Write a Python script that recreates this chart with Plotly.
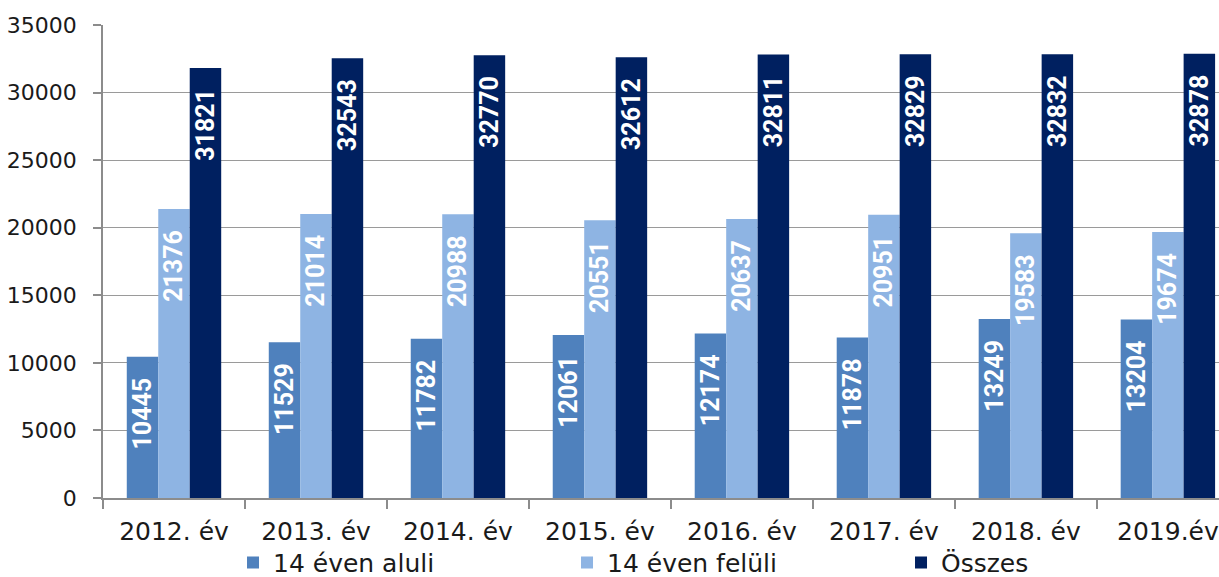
import plotly.graph_objects as go

categories = ["2012. év", "2013. év", "2014. év", "2015. év", "2016. év", "2017. év", "2018. év", "2019.év"]
under14 = [10445, 11529, 11782, 12061, 12174, 11878, 13249, 13204]
over14 = [21376, 21014, 20988, 20551, 20637, 20951, 19583, 19674]
total = [31821, 32543, 32770, 32612, 32811, 32829, 32832, 32878]
series_names = ["14 éven aluli", "14 éven felüli", "Összes"]
colors = ["#4F81BD", "#8EB4E3", "#002060"]

fig = go.Figure()
for name, vals, col in zip(series_names, [under14, over14, total], colors):
    fig.add_trace(go.Bar(
        x=categories, y=vals, name=name, marker_color=col, marker_line_width=0,
        text=[f"{v}\u2800" for v in vals], textposition="inside",
        insidetextanchor="end", textangle=-90, constraintext="none",
        textfont=dict(family="Roboto", size=25, color="white", weight="bold"),
        cliponaxis=False,
    ))

fig.update_layout(
    width=1219, height=577,
    margin=dict(l=103, r=0, t=25, b=79, autoexpand=False),
    paper_bgcolor="white", plot_bgcolor="white",
    barmode="group", bargap=0.335, bargroupgap=0,
    font=dict(family="DejaVu Sans", size=22, color="#1a1a1a"),
    showlegend=True,
    legend=dict(orientation="h", x=0.1165, xanchor="left", y=-0.137, yanchor="middle",
                font=dict(size=25), entrywidth=289, entrywidthmode="pixels",
                bgcolor="rgba(0,0,0,0)"),
    xaxis=dict(range=[-0.5, 7.36], showgrid=False, showline=True, linecolor="#8c8c8c",
               linewidth=1.5, ticks="outside", tickson="boundaries", ticklen=9,
               tickcolor="#8c8c8c", tickwidth=1.5, tickfont=dict(size=25),
               ticklabelstandoff=10),
    yaxis=dict(range=[0, 35000], dtick=5000, tickformat="d", showgrid=True,
               gridcolor="#9a9a9a", gridwidth=1.2, showline=True, linecolor="#8c8c8c",
               linewidth=1.5, ticks="outside", ticklen=8, tickcolor="#8c8c8c",
               tickwidth=1.5, zeroline=False, tickfont=dict(size=22),
               ticklabelstandoff=12),
)

html = fig.to_html(full_html=True, config={"displayModeBar": False})
html = html.replace("<head>", "<head><style>html,body{margin:0;padding:0;overflow:hidden;}</style>", 1)
with open("out.html", "w", encoding="utf-8") as f:
    f.write(html)
